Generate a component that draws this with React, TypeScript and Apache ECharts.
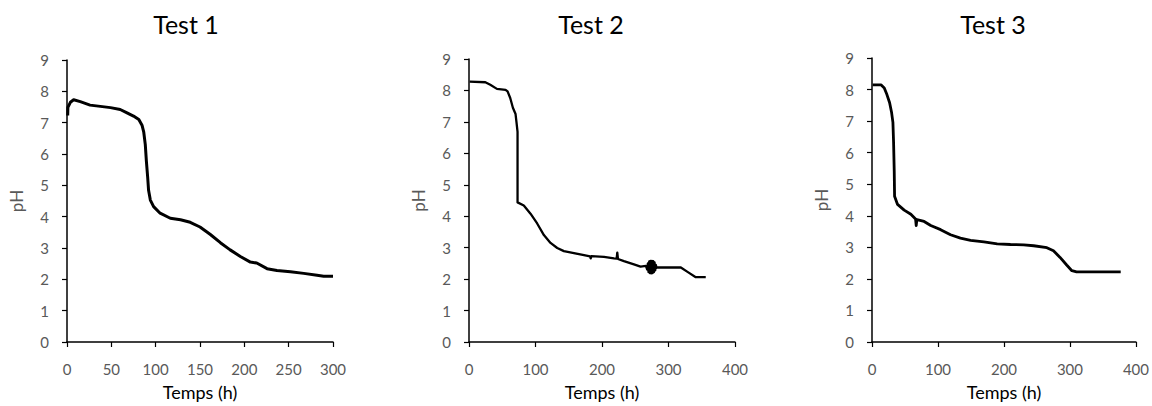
import React, { useEffect, useRef } from "react";
import * as echarts from "echarts";

const titles = ["Test 1", "Test 2", "Test 3"];
const yTitle = "pH";
const xTitle = "Temps (h)";
const xMaxes = [300, 400, 400];
const xIntervals = [50, 100, 100];

// [time (h), pH]
const test1: [number, number][] = [
  [0.8, 7.23], [1, 7.49], [3.8, 7.65], [7.5, 7.73], [15, 7.67], [26, 7.56],
  [37.6, 7.52], [49, 7.48], [60, 7.42], [67.7, 7.31], [75, 7.21], [81, 7.1],
  [84.6, 6.92], [86.5, 6.71], [88.3, 6.3], [89.5, 5.78], [91, 5.25], [92, 4.84],
  [94, 4.53], [97.7, 4.32], [105, 4.11], [116.5, 3.95], [128, 3.9], [139, 3.82],
  [150, 3.67], [161.7, 3.43], [173, 3.17], [184, 2.94], [195.5, 2.73], [206.8, 2.55],
  [214, 2.52], [225.6, 2.34], [236.8, 2.28], [252, 2.24], [267, 2.19], [282, 2.13],
  [289.5, 2.1], [300, 2.1],
];

const test2: [number, number][] = [
  [1, 8.28], [24.6, 8.26], [32, 8.18], [42, 8.05], [55, 8.02], [58, 7.97],
  [62, 7.76], [66, 7.45], [70, 7.25], [71.4, 6.99], [73, 6.68], [73, 4.44],
  [82.4, 4.34], [92.5, 4.08], [102.5, 3.77], [112.6, 3.4], [122.6, 3.15], [132.7, 2.99],
  [142.7, 2.89], [157.8, 2.83], [172.9, 2.76], [182, 2.72], [183, 2.66], [184, 2.73],
  [203, 2.71], [218, 2.66], [222, 2.65], [223, 2.84], [224, 2.64], [233, 2.57],
  [248, 2.47], [258, 2.4], [266, 2.42], [268, 2.3], [269, 2.5], [270, 2.22],
  [271, 2.56], [272, 2.19], [273, 2.58], [274, 2.18], [275, 2.58], [276, 2.19],
  [277, 2.57], [278, 2.22], [279, 2.53], [280, 2.28], [281, 2.45], [282, 2.36],
  [283, 2.37], [318.6, 2.37], [328.6, 2.23], [341, 2.06], [356, 2.06],
];

const test3: [number, number][] = [
  [1, 8.15], [13.6, 8.15], [18.6, 8.05], [22.6, 7.84], [26.7, 7.58], [29.7, 7.27],
  [31.7, 6.96], [32.7, 6.33], [33.7, 5.4], [34.2, 4.62], [38.7, 4.36], [48.8, 4.18],
  [58.9, 4.05], [66, 3.9], [67, 3.69], [68, 3.88], [79, 3.82], [89, 3.69],
  [104, 3.56], [119, 3.4], [134, 3.29], [149.4, 3.22], [169.6, 3.17], [189.7, 3.11],
  [209.8, 3.09], [230, 3.08], [245, 3.05], [265, 2.99], [275, 2.89], [285, 2.68],
  [295, 2.44], [302.9, 2.26], [310, 2.22], [345.7, 2.22], [376.9, 2.22],
];

const seriesData = [test1, test2, test3];
const lineWidths = [3, 2.3, 2.8];

const grids = [
  { left: 67, top: 60, width: 266, height: 288 },
  { left: 469, top: 59, width: 266, height: 289 },
  { left: 872, top: 58, width: 265, height: 289 },
];
const titleCenters = [181, 586, 988];

const FONT = "Lato";

export default function App() {
  const ref = useRef<HTMLDivElement>(null);
  useEffect(() => {
    if (!ref.current) return;
    const chart = echarts.init(ref.current, undefined, { renderer: "svg" });
    const axisLine = { show: true, lineStyle: { color: "#000", width: 1.5 } };
    const axisTick = { show: true, length: 5, lineStyle: { color: "#000", width: 1.2 } };
    chart.setOption({
      animation: false,
      backgroundColor: "#fff",
      title: titles.map((t, i) => ({
        text: t,
        left: titleCenters[i],
        top: 6,
        textAlign: "center",
        textStyle: { fontFamily: FONT, fontSize: 25, fontWeight: "normal", color: "#000" },
      })),
      grid: grids.map((g) => ({ ...g, containLabel: false })),
      xAxis: xMaxes.map((mx, i) => ({
        type: "value",
        gridIndex: i,
        min: 0,
        max: mx,
        interval: xIntervals[i],
        name: xTitle,
        nameLocation: "middle",
        nameGap: 41,
        nameTextStyle: { fontFamily: FONT, fontSize: 18, fontWeight: 400, color: "#000" },
        axisLine,
        axisTick,
        splitLine: { show: false },
        axisLabel: { fontFamily: FONT, fontSize: 15, color: "#595959", margin: 19 },
      })),
      yAxis: xMaxes.map((_, i) => ({
        type: "value",
        gridIndex: i,
        min: 0,
        max: 9,
        interval: 1,
        name: yTitle,
        nameLocation: "middle",
        nameGap: 42,
        nameTextStyle: { fontFamily: FONT, fontSize: 17, fontWeight: 400, color: "#595959" },
        axisLine,
        axisTick,
        splitLine: { show: false },
        axisLabel: { fontFamily: FONT, fontSize: 15, color: "#595959", margin: 18 },
      })),
      series: seriesData.map((d, i) => ({
        type: "line",
        xAxisIndex: i,
        yAxisIndex: i,
        data: d,
        showSymbol: false,
        symbol: "none",
        lineStyle: { color: "#000", width: lineWidths[i], join: "round" },
      })),
    });
    return () => chart.dispose();
  }, []);
  return (
    <div
      ref={ref}
      style={{ position: "absolute", left: 0, top: 0, width: 1152, height: 406, background: "#fff" }}
    />
  );
}
